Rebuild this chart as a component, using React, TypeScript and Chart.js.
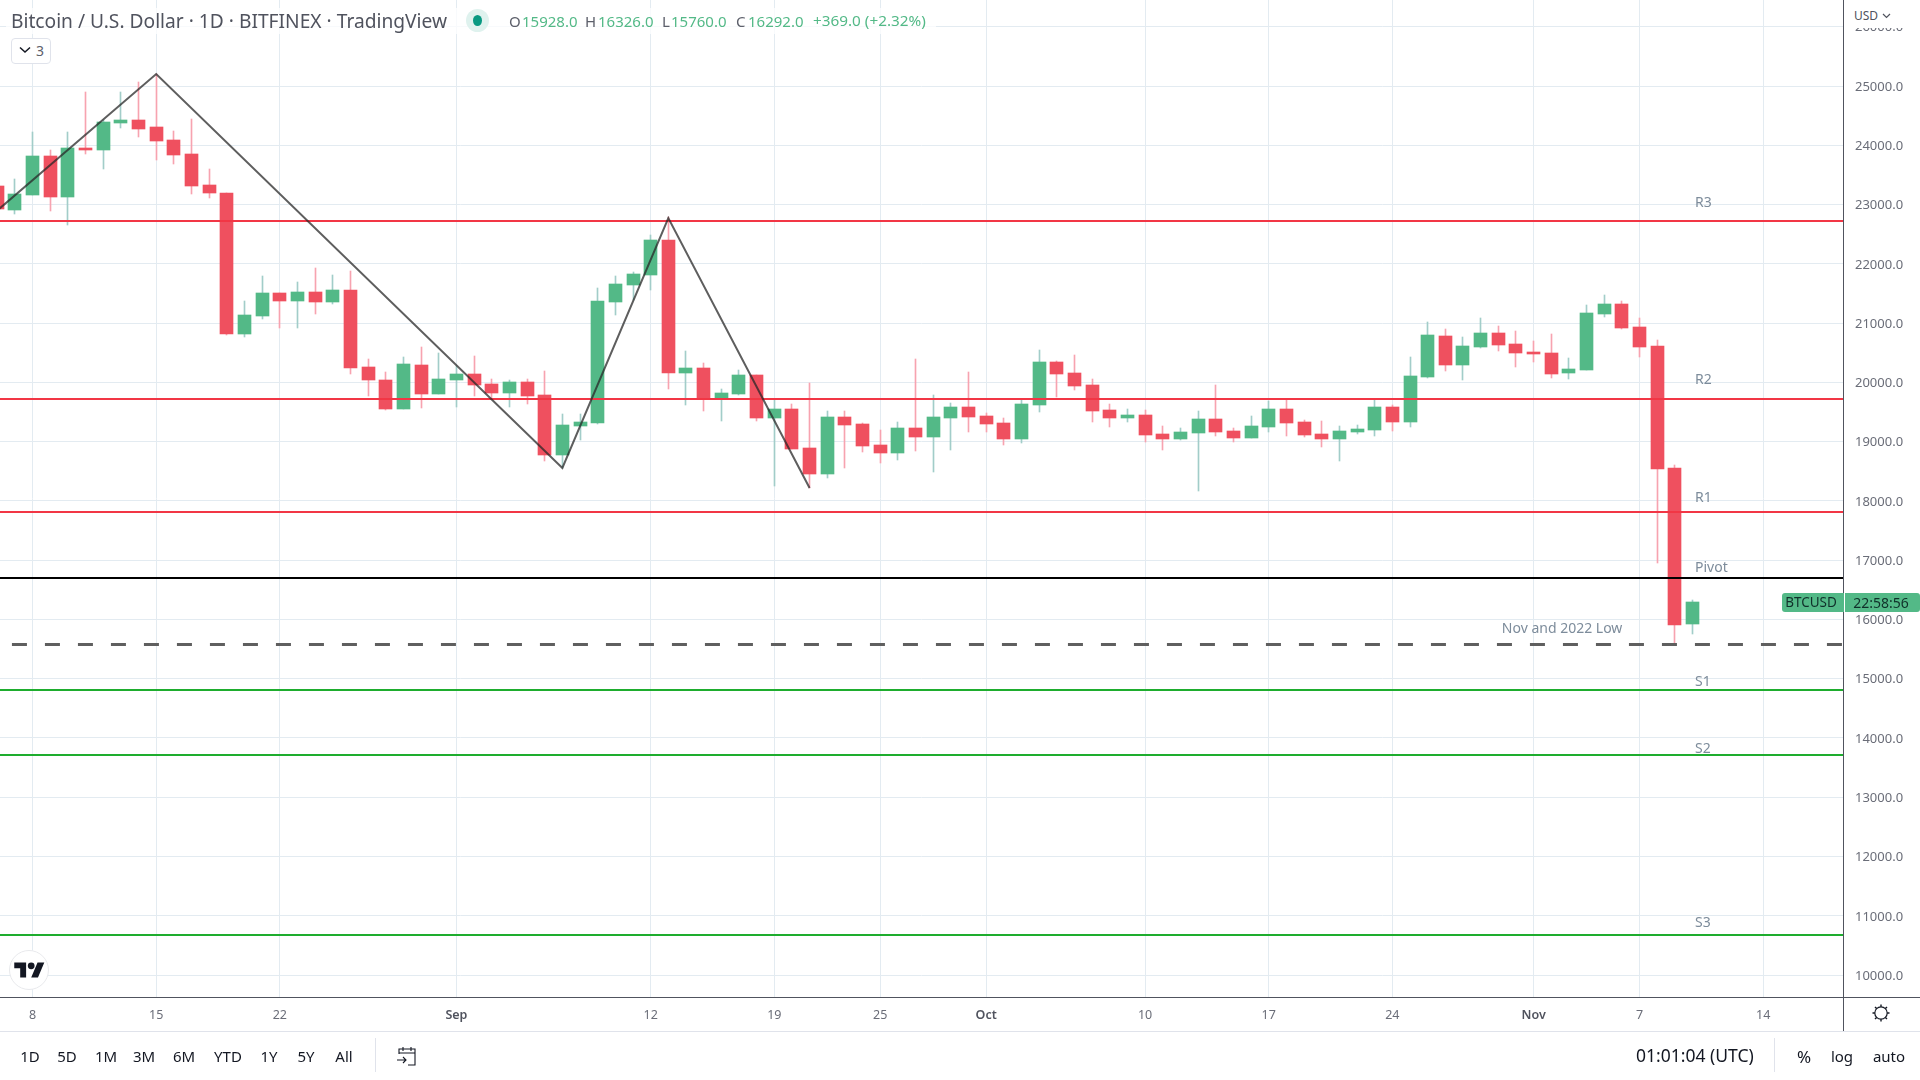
import React, { useEffect, useRef } from "react";
import { Chart, registerables } from "chart.js";

Chart.register(...registerables);

const FONT = '"Noto Sans", sans-serif';

// Daily candles, first entry = 6 Aug 2022, last = 10 Nov 2022
const opens = [
  23313, 22908, 23161, 23819, 23127, 23954, 23920, 24376, 24426, 24308, 24089, 23853, 23330, 23195, 20816, 21120, 21507, 21373, 21524, 21356, 21558, 20259, 20040, 19551, 20293, 19804,
  20040, 20141, 19973, 19821, 20006, 19787, 18775, 19264, 19314, 21356, 21643, 21811, 22402, 20158, 20242, 19720, 19804, 20124, 19399, 19551, 18893, 18454, 19416, 19298, 18943, 18808, 19230, 19078, 19399, 19584,
  19432, 19314, 19044, 19617, 20343, 20157, 19955, 19533, 19398, 19449, 19128, 19044, 19145, 19381, 19179, 19061, 19246, 19550, 19331, 19128, 19044, 19162, 19196, 19584, 19331, 20090, 20782, 20292, 20596, 20832, 20647,
  20512, 20495, 20158, 20208, 21153, 21322, 20934, 20613, 18555, 15928,
];
const highs = [
  23360, 23431, 24224, 23920, 24224, 24899, 24420, 24899, 25067, 25200, 24240, 24443, 23600, 23195, 21373, 21794, 21507, 21693, 21930, 21811, 21879, 20394, 20175, 20428, 20597, 20496,
  20270, 20445, 20057, 20040, 20057, 20192, 19466, 19466, 21592, 21795, 21862, 22486, 22790, 20529, 20327, 19888, 20209, 20124, 19702, 19635, 19989, 19517, 19517, 19315, 19196, 19331, 20394, 19787, 19652, 20174,
  19482, 19398, 19702, 20545, 20360, 20461, 20056, 19634, 19550, 19533, 19263, 19229, 19516, 19955, 19229, 19432, 19685, 19719, 19364, 19347, 19263, 19280, 19702, 19617, 20427, 21018, 20900, 20765, 21085, 20950, 20866,
  20697, 20815, 20411, 21305, 21473, 21372, 21085, 20714, 18605, 16326,
];
const lows = [
  22880, 22840, 23161, 22891, 22655, 23853, 23600, 24291, 24139, 23751, 23684, 23178, 23110, 20799, 20765, 21069, 20917, 20917, 21153, 21322, 20141, 19770, 19534, 19551, 19568, 19804,
  19584, 19770, 19719, 19584, 19635, 18673, 18555, 19028, 19298, 21137, 21390, 21558, 19888, 19618, 19517, 19348, 19790, 19348, 18252, 18876, 18218, 18386, 18555, 18825, 18640, 18690, 18842, 18487, 18858, 19162,
  19162, 18942, 18976, 19499, 19752, 19871, 19331, 19246, 19331, 18993, 18858, 19027, 18167, 19094, 18993, 19061, 19162, 19094, 19077, 18909, 18673, 19128, 19094, 19179, 19246, 20073, 20191, 20039, 20579, 20529, 20259,
  20343, 20073, 20056, 20208, 21102, 20900, 20427, 16952, 15597, 15760,
];
const closes = [
  22919, 23178, 23819, 23127, 23954, 23920, 24393, 24426, 24274, 24072, 23836, 23313, 23195, 20816, 21136, 21507, 21373, 21524, 21356, 21558, 20242, 20040, 19551, 20310, 19804, 20057,
  20141, 19956, 19821, 20006, 19770, 18775, 19281, 19331, 21373, 21660, 21828, 22402, 20158, 20242, 19736, 19821, 20124, 19399, 19551, 18876, 18454, 19416, 19281, 18926, 18808, 19230, 19078, 19416, 19584, 19415,
  19297, 19044, 19634, 20343, 20140, 19938, 19516, 19398, 19449, 19111, 19044, 19162, 19381, 19162, 19061, 19263, 19550, 19314, 19111, 19044, 19179, 19212, 19584, 19331, 20107, 20798, 20292, 20613, 20832, 20630, 20495,
  20478, 20141, 20225, 21170, 21322, 20917, 20596, 18538, 15906, 16292,
];

const xTickIndex = [2, 9, 16, 26, 37, 44, 50, 56, 65, 72, 79, 87, 93, 100];
const xTickLabels = ["8", "15", "22", "Sep", "12", "19", "25", "Oct", "10", "17", "24", "Nov", "7", "14"];
const monthLabels = ["Sep", "Oct", "Nov"];
const yTicks = [26000, 25000, 24000, 23000, 22000, 21000, 20000, 19000, 18000, 17000, 16000, 15000, 14000, 13000, 12000, 11000, 10000];

const redLevels = [22722, 19719, 17812];
const pivotLevel = [16699];
const lowLevel = [15580];
const greenLevels = [14810, 13705, 10675];

const zigzagIndex = [0, 9, 32, 38, 46];
const zigzagPrice = [22900, 25202, 18555, 22773, 18218];

const noteTexts = ["R3", "R2", "R1", "Pivot", "Nov and 2022 Low", "S1", "S2", "S3"];
const noteIndex = [96.14, 96.14, 96.14, 96.14, 85.2, 96.14, 96.14, 96.14];
const notePrice = [23028, 20041, 18051, 16870, 15840, 14946, 13816, 10879];

const rangeButtons = ["1D", "5D", "1M", "3M", "6M", "YTD", "1Y", "5Y", "All"];
const rangeCentres = [30, 67, 106, 144, 184, 228, 269, 306, 344];

const X_MIN = 0.154;
const X_MAX = 104.52;
const LOW_LINE_START = 0.83;
const Y_MIN = 9630;
const Y_MAX = 26451;

const RED = "#ef505f";
const GREEN = "#53b987";
const RED_WICK = "#f7a3b0";
const GREEN_WICK = "#a2cdc9";
const GRID = "#e3ebf1";
const AXIS = "#50535e";

const idx = closes.map((_, i) => i);

const snapPlugin = {
  id: "snapCandles",
  afterDatasetsUpdate(chart: any) {
    chart.data.datasets.forEach((ds: any, i: number) => {
      const els = chart.getDatasetMeta(i).data;
      if (ds.type === "bar") {
        els.forEach((el: any) => {
          el.x = Math.floor(el.x) + 0.5;
          el.y = Math.round(el.y);
          el.base = Math.round(el.base);
          if (el.y === el.base) el.base = el.y + 1;
        });
      } else if (ds.snapLevel) {
        els.forEach((el: any) => {
          el.y = Math.round(el.y) + (ds.borderWidth % 2 ? 0.5 : 0);
        });
      }
    });
  },
};

const notesPlugin = {
  id: "notes",
  afterDatasetsDraw(chart: any) {
    const { ctx, scales } = chart;
    ctx.save();
    ctx.font = `14px ${FONT}`;
    ctx.fillStyle = "#7d8c9b";
    ctx.textBaseline = "middle";
    ctx.textAlign = "left";
    noteTexts.forEach((t, i) => {
      ctx.fillText(t, scales.x.getPixelForValue(noteIndex[i]), scales.y.getPixelForValue(notePrice[i]));
    });
    ctx.restore();
  },
};

function level(price: number, color: string, width: number, dash: number[] = [], start: number = X_MIN) {
  return {
    type: "line",
    snapLevel: true,
    data: [
      { x: start, y: price },
      { x: X_MAX, y: price },
    ],
    borderColor: color,
    borderWidth: width,
    borderDash: dash,
    pointRadius: 0,
    order: 1,
  };
}

function T({ x, y, c = "#131722", s = 15, center = false, w = 400, children }: any) {
  return (
    <div
      style={{
        position: "absolute",
        left: x,
        top: y,
        transform: center ? "translate(-50%,-50%)" : "translateY(-50%)",
        color: c,
        fontSize: s,
        fontWeight: w,
        fontFamily: FONT,
        lineHeight: 1,
        whiteSpace: "nowrap",
      }}
    >
      {children}
    </div>
  );
}

function Box({ x, y, w, h, style }: any) {
  return <div style={{ position: "absolute", left: x, top: y, width: w, height: h, ...style }} />;
}

export default function App() {
  const ref = useRef<HTMLCanvasElement>(null);
  useEffect(() => {
    document.body.style.margin = "0";
    document.body.style.background = "#fff";
    const chart = new Chart(ref.current as HTMLCanvasElement, {
      type: "bar",
      data: {
        datasets: [
          {
            type: "bar",
            data: idx.map((i) => ({ x: i, y: [lows[i], highs[i]] })),
            barThickness: 1,
            grouped: false,
            backgroundColor: idx.map((i) => (closes[i] >= opens[i] ? GREEN_WICK : RED_WICK)),
            order: 3,
          },
          {
            type: "bar",
            data: idx.map((i) => ({ x: i, y: [Math.min(opens[i], closes[i]), Math.max(opens[i], closes[i])] })),
            barThickness: 13,
            grouped: false,
            backgroundColor: idx.map((i) => (closes[i] >= opens[i] ? GREEN : RED)),
            order: 2,
          },
          ...redLevels.map((p) => level(p, "#f23645", 2)),
          ...pivotLevel.map((p) => level(p, "#000000", 2)),
          ...lowLevel.map((p) => level(p, "#5f5f5f", 3, [15, 18], LOW_LINE_START)),
          ...greenLevels.map((p) => level(p, "#1ead2e", 2)),
          {
            type: "line",
            data: zigzagIndex.map((x, i) => ({ x, y: zigzagPrice[i] })),
            borderColor: "rgba(40,40,40,0.75)",
            borderWidth: 2,
            pointRadius: 0,
            tension: 0,
            order: 0,
          },
        ] as any,
      },
      options: {
        animation: false,
        responsive: false,
        maintainAspectRatio: false,
        events: [],
        layout: { padding: 0 },
        plugins: { legend: { display: false }, tooltip: { enabled: false }, title: { display: false } },
        scales: {
          x: {
            type: "linear",
            min: X_MIN,
            max: X_MAX,
            offset: false,
            afterBuildTicks: (s: any) => {
              s.ticks = xTickIndex.map((value) => ({ value }));
            },
            afterFit: (s: any) => {
              s.height = 83;
              s.paddingLeft = s.paddingRight = s.paddingTop = s.paddingBottom = 0;
            },
            grid: { color: GRID, lineWidth: 1, drawTicks: false, offset: false },
            border: { color: AXIS, width: 1 },
            ticks: {
              autoSkip: false,
              maxRotation: 0,
              includeBounds: false,
              padding: 11,
              color: (ctx: any) => (monthLabels.includes(xTickLabels[xTickIndex.indexOf(ctx.tick?.value)]) ? "#50535e" : "#6a6d78"),
              font: (ctx: any) => ({
                family: FONT,
                size: 12.5,
                weight: monthLabels.includes(xTickLabels[xTickIndex.indexOf(ctx.tick?.value)]) ? 600 : 400,
              }),
              callback: (v: any) => xTickLabels[xTickIndex.indexOf(v)] ?? "",
            },
          },
          y: {
            type: "linear",
            position: "right",
            min: Y_MIN,
            max: Y_MAX,
            afterBuildTicks: (s: any) => {
              s.ticks = yTicks.map((value) => ({ value }));
            },
            afterFit: (s: any) => {
              s.width = 77;
              s.paddingLeft = s.paddingRight = s.paddingTop = s.paddingBottom = 0;
            },
            grid: { color: GRID, lineWidth: 1, drawTicks: false },
            border: { color: AXIS, width: 1 },
            ticks: {
              padding: 12,
              labelOffset: 1,
              color: "#6a6d78",
              font: { family: FONT, size: 13 },
              callback: (v: any) => Number(v).toFixed(1),
            },
          },
        },
      } as any,
      plugins: [snapPlugin, notesPlugin],
    });
    return () => chart.destroy();
  }, []);

  const g = "#53b987";
  const k = "#5d606b";
  return (
    <div style={{ position: "absolute", left: 0, top: 0, width: 1920, height: 1080, background: "#fff", overflow: "hidden" }}>
      <canvas ref={ref} width={1920} height={1080} style={{ display: "block", width: 1920, height: 1080 }} />

      {/* header */}
      <Box x={6} y={8} w={930} h={26} style={{ background: "rgba(255,255,255,0.75)" }} />
      <T x={11} y={21} s={19.2} c="#50535e">Bitcoin / U.S. Dollar · 1D · BITFINEX · TradingView</T>
      <Box x={466} y={9} w={23} h={23} style={{ background: "#dff2ee", borderRadius: "50%" }} />
      <Box x={473} y={15} w={9} h={11} style={{ background: "#089981", borderRadius: "50%" }} />
      <T x={509} y={21} s={15} c={k}>O</T>
      <T x={522} y={21} s={15} c={g}>15928.0</T>
      <T x={585} y={21} s={15} c={k}>H</T>
      <T x={598} y={21} s={15} c={g}>16326.0</T>
      <T x={662} y={21} s={15} c={k}>L</T>
      <T x={671} y={21} s={15} c={g}>15760.0</T>
      <T x={736} y={21} s={15} c={k}>C</T>
      <T x={748} y={21} s={15} c={g}>16292.0</T>
      <T x={813} y={21} s={15.3} c={g}>+369.0 (+2.32%)</T>

      {/* collapsed indicators */}
      <Box x={11} y={38} w={38} h={24} style={{ border: "1px solid #e0e3eb", borderRadius: 4, background: "#fff" }} />
      <svg style={{ position: "absolute", left: 19, top: 46 }} width="12" height="8" viewBox="0 0 12 8">
        <path d="M1 1.5 L6 6 L11 1.5" fill="none" stroke="#131722" strokeWidth="1.5" />
      </svg>
      <T x={36} y={51} s={14} c={k}>3</T>

      {/* logo */}
      <Box x={9} y={950} w={38} h={38} style={{ background: "#fff", border: "1px solid #e8e9ec", borderRadius: "50%" }} />
      <svg style={{ position: "absolute", left: 14, top: 959 }} width="31" height="22" viewBox="0 0 36 26">
        <path d="M14 22H7V11H0V4h14v18zM28 22h-8l7.5-18h8L28 22z" fill="#131722" />
        <circle cx="20" cy="8" r="4" fill="#131722" />
      </svg>

      {/* price-scale chrome */}
      <Box x={1844} y={0} w={76} h={28} style={{ background: "#fff" }} />
      <T x={1854} y={16} s={12} c="#50535e">USD</T>
      <svg style={{ position: "absolute", left: 1882, top: 13 }} width="9" height="6" viewBox="0 0 9 6">
        <path d="M1 1 L4.5 4.5 L8 1" fill="none" stroke="#50535e" strokeWidth="1.2" />
      </svg>
      <Box x={1782} y={593} w={62} h={19} style={{ background: "#53b987", borderRadius: "3px 0 0 3px" }} />
      <Box x={1845} y={593} w={75} h={19} style={{ background: "#53b987", borderRadius: "0 3px 3px 0" }} />
      <T x={1811} y={602.5} s={13.5} center c="#10302a">BTCUSD</T>
      <T x={1881} y={602.5} s={14} center c="#10302a">22:58:56</T>

      {/* axis rules */}
      <Box x={1843} y={997} w={77} h={1} style={{ background: AXIS }} />
      <Box x={1843} y={997} w={1} h={34} style={{ background: AXIS }} />
      <Box x={0} y={1031} w={1920} h={1} style={{ background: "#e0e3eb" }} />
      <svg style={{ position: "absolute", left: 1871, top: 1003 }} width="20" height="20" viewBox="0 0 20 20">
        <circle cx="10" cy="10" r="6.2" fill="none" stroke="#131722" strokeWidth="1.2" />
        <path d="M10 1.5v2.3M10 16.2v2.3M1.5 10h2.3M16.2 10h2.3M4 4l1.6 1.6M14.4 14.4L16 16M4 16l1.6-1.6M14.4 5.6L16 4" stroke="#131722" strokeWidth="1.4" />
      </svg>

      {/* bottom toolbar */}
      {rangeButtons.map((b, i) => (
        <T key={b} x={rangeCentres[i]} y={1056} s={15} center>{b}</T>
      ))}
      <Box x={375} y={1038} w={1} h={34} style={{ background: "#e0e3eb" }} />
      <svg style={{ position: "absolute", left: 396, top: 1045 }} width="22" height="22" viewBox="0 0 22 22" fill="none" stroke="#131722" strokeWidth="1.1">
        <path d="M3 9V4h16v16h-7M3 8h16M7 2v4M15 2v4M1 15h9M7 12l3 3-3 3" />
      </svg>
      <T x={1636} y={1056} s={17.5}>01:01:04 (UTC)</T>
      <Box x={1774} y={1038} w={1} h={34} style={{ background: "#e0e3eb" }} />
      <T x={1804} y={1056} s={17} center>%</T>
      <T x={1842} y={1056} s={15} center>log</T>
      <T x={1889} y={1056} s={15} center>auto</T>
    </div>
  );
}
